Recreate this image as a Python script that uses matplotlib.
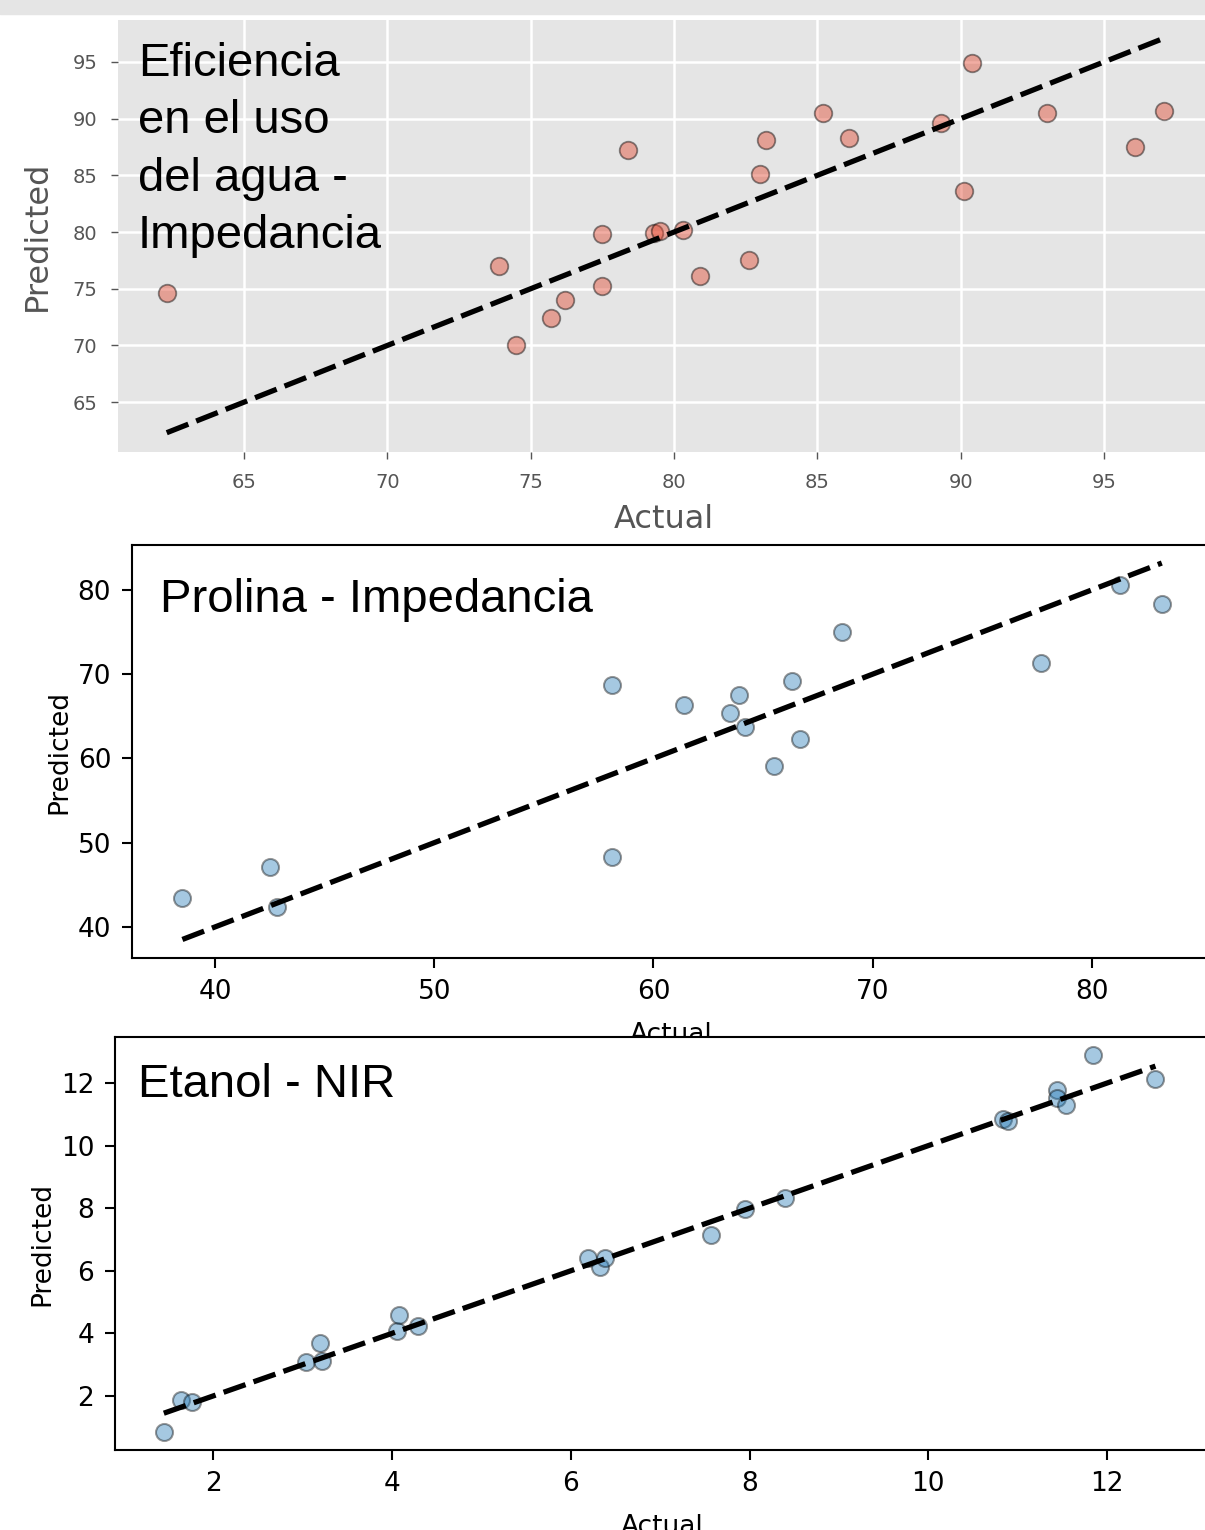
import matplotlib
matplotlib.use("Agg")
import matplotlib.pyplot as plt
from matplotlib.patches import Rectangle

W, H = 1205, 1530

# Eficiencia en el uso del agua - Impedancia
wue_actual = [62.3, 73.9, 74.5, 75.7, 76.2, 77.5, 77.5, 78.4, 79.3, 79.5, 80.3,
              80.9, 82.6, 83.0, 83.2, 85.2, 86.1, 89.3, 90.1, 90.4, 93.0, 96.1, 97.1]
wue_pred = [74.6, 77.0, 70.0, 72.4, 74.0, 79.8, 75.2, 87.2, 79.9, 80.1, 80.2,
            76.1, 77.5, 85.1, 88.1, 90.5, 88.3, 89.6, 83.6, 94.9, 90.5, 87.5, 90.7]

# Prolina - Impedancia
pro_actual = [38.5, 42.5, 42.8, 58.1, 58.1, 61.4, 63.5, 63.9, 64.2, 65.5, 66.3,
              66.7, 68.6, 77.7, 81.3, 83.2]
pro_pred = [43.4, 47.1, 42.4, 68.7, 48.3, 66.4, 65.4, 67.5, 63.7, 59.1, 69.2,
            62.3, 75.0, 71.3, 80.6, 78.3]

# Etanol - NIR
eta_actual = [1.45, 1.64, 1.77, 3.04, 3.20, 3.22, 4.06, 4.08, 4.29, 6.19, 6.33,
              6.38, 7.57, 7.95, 8.40, 10.83, 10.89, 11.44, 11.44, 11.54, 11.84, 12.54]
eta_pred = [0.85, 1.87, 1.81, 3.09, 3.69, 3.12, 4.08, 4.59, 4.24, 6.41, 6.12,
            6.41, 7.14, 7.97, 8.33, 10.85, 10.79, 11.78, 11.52, 11.30, 12.89, 12.13]


def box(left, top, right, bottom):
    # pixel box (from top-left) -> figure fraction
    return [left / W, 1 - bottom / H, (right - left) / W, (bottom - top) / H]


fig = plt.figure(figsize=(W / 100, H / 100), dpi=100)
fig.patches.append(Rectangle((0, 1 - 14 / H), 1, 14 / H, transform=fig.transFigure,
                             color='#E5E5E5', zorder=0))

# top panel, ggplot look
ax1 = fig.add_axes(box(118, 20, 1210, 452))
ax1.set_facecolor('#E5E5E5')
for s in ax1.spines.values():
    s.set_visible(False)
ax1.set_axisbelow(True)
ax1.grid(True, color='white', lw=1.8)
ax1.scatter(wue_actual, wue_pred, s=160, color='#E24A33', alpha=0.45,
            edgecolors='k', linewidths=1.3)
lims = [min(wue_actual), max(wue_actual)]
ax1.plot(lims, lims, 'k--', lw=3.8, dashes=(4.4, 1.6))
ax1.set_xlim(60.6, 98.7)
ax1.set_ylim(60.6, 98.7)
ax1.set_xticks([65, 70, 75, 80, 85, 90, 95])
ax1.set_yticks([65, 70, 75, 80, 85, 90, 95])
ax1.tick_params(colors='#555555', labelsize=14, length=5, width=1, pad=10)
ax1.set_xlabel('Actual', fontsize=23, color='#555555', labelpad=9)
ax1.set_ylabel('Predicted', fontsize=23, color='#555555', labelpad=14)
fig.text(138 / W, 1 - 248.5 / H, 'Eficiencia\nen el uso\ndel agua -\nImpedancia',
         family='Liberation Sans', fontsize=34, va='baseline', linespacing=1.4,
         transform=fig.transFigure)

# middle panel
ax2 = fig.add_axes(box(132, 545, 1210, 958))
ax2.scatter(pro_actual, pro_pred, s=150, color='#1f77b4', alpha=0.4,
            edgecolors='k', linewidths=1.5)
lims = [min(pro_actual), max(pro_actual)]
ax2.plot(lims, lims, 'k--', lw=3.8, dashes=(4.4, 1.6))
ax2.set_xlim(36.2, 85.4)
ax2.set_ylim(36.3, 85.34)
ax2.tick_params(labelsize=19, length=7, width=1.5, pad=8)
for s in ax2.spines.values():
    s.set_linewidth(1.5)
ax2.set_xlabel('Actual', fontsize=19, labelpad=12)
ax2.set_ylabel('Predicted', fontsize=19)
fig.text(160 / W, 1 - 612 / H, 'Prolina - Impedancia', family='Liberation Sans',
         fontsize=34, va='baseline')

# bottom panel
ax3 = fig.add_axes(box(115, 1037, 1210, 1450))
ax3.scatter(eta_actual, eta_pred, s=150, color='#1f77b4', alpha=0.4,
            edgecolors='k', linewidths=1.5)
lims = [min(eta_actual), max(eta_actual)]
ax3.plot(lims, lims, 'k--', lw=3.8, dashes=(4.4, 1.6))
ax3.set_xlim(0.904, 13.15)
ax3.set_ylim(0.275, 13.47)
ax3.tick_params(labelsize=19, length=7, width=1.5, pad=8)
for s in ax3.spines.values():
    s.set_linewidth(1.5)
ax3.set_xlabel('Actual', fontsize=19, labelpad=12)
ax3.set_ylabel('Predicted', fontsize=19)
fig.text(138 / W, 1 - 1097 / H, 'Etanol - NIR', family='Liberation Sans',
         fontsize=34, va='baseline')

fig.savefig('out.png', dpi=100)
